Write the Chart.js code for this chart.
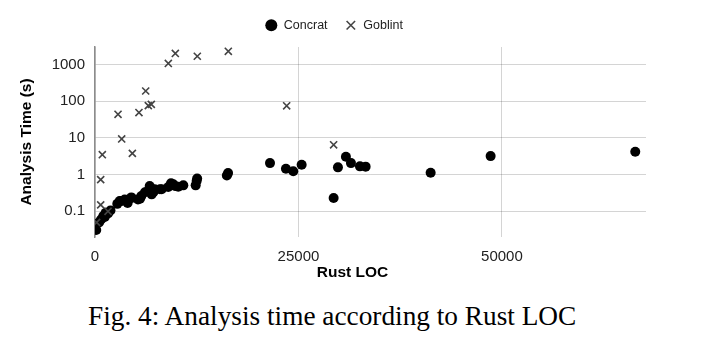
<!DOCTYPE html>
<html>
<head>
<meta charset="utf-8">
<script src="https://cdn.jsdelivr.net/npm/chart.js@4"></script>
<style>
  html, body { margin: 0; padding: 0; background: #fff; }
  #wrap { position: relative; width: 710px; height: 343px; }
  #chart { position: absolute; left: 0; top: 0; }
  #caption { position: absolute; left: 88px; top: 303px; font: 27.3px/1 "Liberation Serif", "Times New Roman", serif; color: #000; white-space: nowrap; }
</style>
</head>
<body>
<div id="wrap">
  <canvas id="chart" width="710" height="290"></canvas>
  <div id="caption">Fig. 4: Analysis time according to Rust LOC</div>
</div>
<script>
'use strict';

// ---- Données ----
const concratLoc  = [150, 500, 750, 1020, 1200, 1310, 1600, 1900, 2740, 3030, 3190, 3650, 4010, 4460, 4500,
                     5280, 5530, 5690, 6140, 6510, 6720, 6960, 7170, 7330, 7980, 8190, 9000, 9340, 9620, 9830,
                     10230, 10850, 12370, 12490, 12550, 16200, 16350, 21500, 23460, 24360, 25390, 29320, 29850,
                     30830, 31450, 32550, 33250, 41240, 48610, 66380];
const concratTime = [0.031, 0.05, 0.06, 0.075, 0.07, 0.092, 0.088, 0.105, 0.16, 0.19, 0.19, 0.21, 0.17, 0.24, 0.23,
                     0.21, 0.22, 0.26, 0.33, 0.36, 0.49, 0.29, 0.33, 0.40, 0.40, 0.40, 0.46, 0.58, 0.55, 0.49,
                     0.47, 0.51, 0.51, 0.67, 0.78, 0.95, 1.1, 2.06, 1.45, 1.23, 1.86, 0.23, 1.58,
                     3.07, 2.06, 1.68, 1.65, 1.13, 3.2, 4.2];
const goblintLoc  = [200, 700, 700, 900, 1600, 2830, 3280, 4590, 5400, 6230, 6550, 6920, 9010, 9870, 12570, 16380, 23550, 29320];
const goblintTime = [0.05, 0.15, 0.73, 3.5, 0.1, 44, 9.4, 3.8, 49, 190, 76, 82, 1070, 2000, 1680, 2290, 75, 6.5];
const xTicks = [0, 25000, 50000];
const yTicks = [0.1, 1, 10, 100, 1000];

const toPoints = (xs, ys) => xs.map((x, i) => ({ x, y: ys[i] }));

Chart.defaults.font.family = '"Liberation Sans", Arial, sans-serif';
Chart.defaults.color = '#222';

const GRID = 'rgba(0,0,0,0.17)';

// légende : hauteur fixe + léger décalage ; titre X décalé vers la gauche
const tweaks = {
  id: 'tweaks',
  beforeInit(chart) {
    const fit = chart.legend.fit;
    chart.legend.fit = function () { fit.call(this); this.height = 45; };
  },
  afterLayout(chart) {
    chart.legend.left += 11; chart.legend.right += 11;
    const sx = chart.scales.x;
    if (!sx._titlePatched) {
      const draw = sx.drawTitle;
      sx.drawTitle = function () { this.left -= 36; draw.call(this); this.left += 36; };
      sx._titlePatched = true;
    }
  }
};

new Chart(document.getElementById('chart').getContext('2d'), {
  type: 'scatter',
  data: {
    datasets: [
      { label: 'Concrat', data: toPoints(concratLoc, concratTime), order: 1,
        pointStyle: 'circle', pointRadius: 5, borderWidth: 0, backgroundColor: '#000', borderColor: '#000' },
      { label: 'Goblint', data: toPoints(goblintLoc, goblintTime), order: 0,
        pointStyle: 'crossRot', pointRadius: 5, borderWidth: 1.6, backgroundColor: '#444', borderColor: '#444' }
    ]
  },
  options: {
    responsive: false, animation: false, events: [],
    layout: { padding: { top: 2, right: 64, bottom: 0, left: 0 } },
    plugins: {
      tooltip: { enabled: false },
      legend: { position: 'top', labels: {
        usePointStyle: true, boxHeight: 8.5, padding: 17, color: '#222',
        font: { size: 12.5 }, sort: (a, b) => a.datasetIndex - b.datasetIndex
      }}
    },
    scales: {
      x: {
        type: 'linear', min: 0, max: 67700,
        afterBuildTicks: s => { s.ticks = xTicks.map(v => ({ value: v })); },
        afterFit: s => { s.height = 53; },
        ticks: { padding: 11, maxRotation: 0, font: { size: 15 }, color: '#222', callback: v => String(v) },
        grid: { color: GRID, drawTicks: false },
        border: { display: false },
        title: { display: true, text: 'Rust LOC', color: '#000', font: { size: 15.5, weight: 'bold' }, padding: { top: 0, bottom: 8 } }
      },
      y: {
        type: 'logarithmic', min: 0.02, max: 3000,
        afterBuildTicks: s => { s.ticks = yTicks.map(v => ({ value: v })); },
        afterFit: s => { s.width = 95; },
        ticks: { padding: 10, font: { size: 15 }, color: '#222', callback: v => String(v) },
        grid: { color: GRID, drawTicks: false },
        border: { display: true, color: '#8c8c8c', width: 1.5 },
        title: { display: true, text: 'Analysis Time (s)', color: '#000', font: { size: 15.5, weight: 'bold' }, padding: { top: 17, bottom: 0 } }
      }
    }
  },
  plugins: [tweaks]
});
</script>
</body>
</html>
